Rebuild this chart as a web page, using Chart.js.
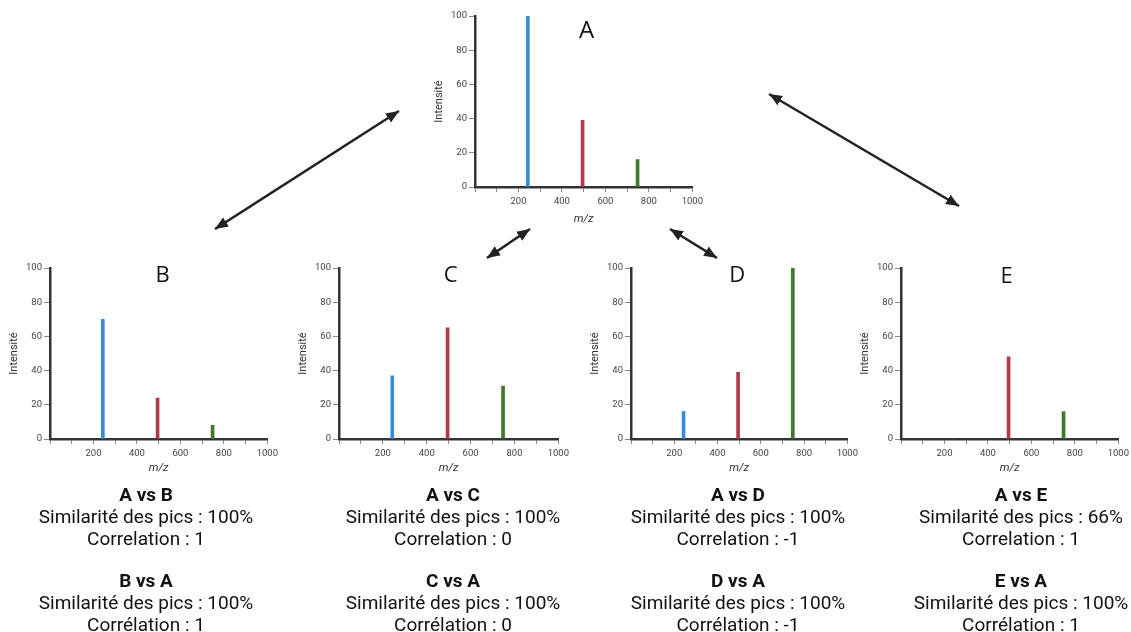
<!DOCTYPE html>
<html>
<head>
<meta charset="utf-8">
<script src="https://cdn.jsdelivr.net/npm/chart.js@4.4.1/dist/chart.umd.min.js"></script>
<style>
  html, body { margin: 0; padding: 0; background: #fff; }
  body { width: 1131px; height: 632px; position: relative; overflow: hidden; font-family: Roboto, "Noto Sans", sans-serif; }
  canvas.spec { position: absolute; }
  svg#arrows { position: absolute; left: 0; top: 0; }
  .block { position: absolute; width: 320px; text-align: center; font-size: 19px; line-height: 22px; color: #111; }
  .block b { font-weight: 700; }
</style>
</head>
<body>
<canvas class="spec" id="chartA"></canvas>
<canvas class="spec" id="chartB"></canvas>
<canvas class="spec" id="chartC"></canvas>
<canvas class="spec" id="chartD"></canvas>
<canvas class="spec" id="chartE"></canvas>

<svg id="arrows" width="1131" height="632">
  <defs>
    <marker id="head" viewBox="0 0 12 10" refX="12" refY="5" markerWidth="13" markerHeight="11" markerUnits="userSpaceOnUse" orient="auto-start-reverse">
      <path d="M0,0 L12,5 L0,10 z" fill="#222"/>
    </marker>
  </defs>
  <g stroke="#222" stroke-width="2.5" marker-start="url(#head)" marker-end="url(#head)">
    <line x1="215" y1="229" x2="399" y2="111"/>
    <line x1="769" y1="94" x2="959" y2="206"/>
    <line x1="487" y1="258" x2="530" y2="229"/>
    <line x1="670" y1="229" x2="717" y2="258"/>
  </g>
</svg>

<div id="blocks"></div>

<script>
// peak positions (m/z) and intensities for each spectrum
const mz = [243, 495, 748];
const spectrumA = [100, 39, 16];
const spectrumB = [70, 24, 8];
const spectrumC = [37, 65, 31];
const spectrumD = [16, 39, 100];
const spectrumE = [0, 48, 16];
const peakColors = ['#3a8ad8', '#b03a48', '#3e7a2a'];
const xLabelled = [200, 400, 600, 800, 1000];

// comparison texts under each lower spectrum
const pairs = ['B', 'C', 'D', 'E'];
const simForward = ['100%', '100%', '100%', '66%'];
const corrForward = ['1', '0', '-1', '1'];
const simBackward = ['100%', '100%', '100%', '100%'];
const corrBackward = ['1', '0', '-1', '1'];
const blockCenters = [146, 453, 738, 1021];

const letterPlugin = {
  id: 'letter',
  afterDraw(chart, args, opts) {
    const { ctx, chartArea: a } = chart;
    ctx.save();
    ctx.font = opts.size + 'px "Open Sans"';
    ctx.fillStyle = '#111';
    ctx.textAlign = 'center';
    ctx.textBaseline = 'middle';
    ctx.fillText(opts.text, (a.left + a.right) / 2 + opts.dx, a.top + opts.dy);
    ctx.restore();
  }
};

function drawSpectrum(id, letter, values, left, top, width, opt) {
  const yW = 48, xH = 44, padTop = 16, padRight = 14, height = 171;
  const canvas = document.getElementById(id);
  canvas.width = yW + width + padRight;
  canvas.height = padTop + height + xH;
  canvas.style.left = (left - yW) + 'px';
  canvas.style.top = (top - padTop) + 'px';

  new Chart(canvas, {
    type: 'bar',
    data: {
      datasets: [{
        data: mz.map((x, i) => ({ x: x, y: values[i] })),
        backgroundColor: peakColors,
        barThickness: 3,
        borderWidth: 0
      }]
    },
    plugins: [letterPlugin],
    options: {
      responsive: false,
      animation: false,
      layout: { padding: { top: padTop, right: padRight, left: 0, bottom: 0 } },
      plugins: {
        legend: { display: false },
        tooltip: { enabled: false },
        letter: { text: letter, size: opt.size, dy: opt.dy, dx: opt.dx }
      },
      scales: {
        x: {
          type: 'linear',
          min: 0,
          max: 1000,
          offset: false,
          afterFit(s) { s.height = xH; },
          afterBuildTicks(s) {
            const t = [];
            for (let v = 0; v <= 1000; v += 100) t.push({ value: v });
            s.ticks = t;
          },
          ticks: {
            autoSkip: false,
            maxRotation: 0,
            padding: 4,
            color: '#444',
            font: { family: 'Roboto', size: 9.5 },
            callback: v => xLabelled.includes(v) ? String(v) : ''
          },
          grid: { offset: false, drawOnChartArea: false, drawTicks: true, tickLength: 5, color: '#888' },
          border: { display: true, color: '#333', width: 2.5 },
          title: { display: true, text: 'm/z', color: '#333', padding: { top: 0, bottom: opt.xTitlePad }, font: { family: 'Roboto', size: 11.5, style: 'italic' } }
        },
        y: {
          min: 0,
          max: 100,
          afterFit(s) { s.width = yW; },
          ticks: { stepSize: 20, padding: 2, color: '#444', font: { family: 'Roboto', size: 9.5 } },
          grid: { drawOnChartArea: false, drawTicks: true, tickLength: 6, color: '#888' },
          border: { display: true, color: '#333', width: 2.5 },
          title: { display: true, text: 'Intensité', color: '#333', padding: { top: 6, bottom: 0 }, font: { family: 'Roboto', size: 11 } }
        }
      }
    }
  });
}

drawSpectrum('chartA', 'A', spectrumA, 475, 16, 218, { size: 24, dy: 15, dx: 3, xTitlePad: 5 });
drawSpectrum('chartB', 'B', spectrumB, 50, 268, 218, { size: 22, dy: 8, dx: 4, xTitlePad: 8 });
drawSpectrum('chartC', 'C', spectrumC, 339, 268, 220, { size: 22, dy: 8, dx: 2, xTitlePad: 8 });
drawSpectrum('chartD', 'D', spectrumD, 631, 268, 217, { size: 22, dy: 8, dx: -2, xTitlePad: 8 });
drawSpectrum('chartE', 'E', spectrumE, 901, 268, 218, { size: 22, dy: 9, dx: -3, xTitlePad: 8 });

const blocks = document.getElementById('blocks');
pairs.forEach((p, i) => {
  const d = document.createElement('div');
  d.className = 'block';
  d.style.left = (blockCenters[i] - 160) + 'px';
  d.style.top = '484px';
  d.innerHTML =
    '<b>A vs ' + p + '</b><br>Similarité des pics : ' + simForward[i] +
    '<br>Correlation : ' + corrForward[i] + '<br><span style="display:block;height:20px"></span>' +
    '<b>' + p + ' vs A</b><br>Similarité des pics : ' + simBackward[i] +
    '<br>Corrélation : ' + corrBackward[i];
  blocks.appendChild(d);
});
</script>
</body>
</html>
